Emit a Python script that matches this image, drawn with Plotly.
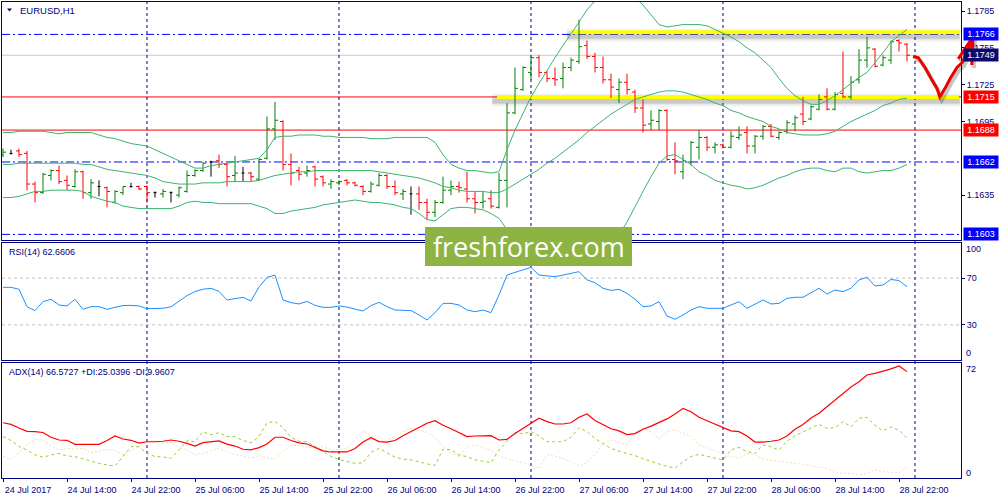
import plotly.graph_objects as go

# ---------------- data (EURUSD H1, bar 0 = 24 Jul 2017 06:00) ----------------
time_labels = ["24 Jul 2017", "24 Jul 14:00", "24 Jul 22:00", "25 Jul 06:00", "25 Jul 14:00",
               "25 Jul 22:00", "26 Jul 06:00", "26 Jul 14:00", "26 Jul 22:00", "27 Jul 06:00",
               "27 Jul 14:00", "27 Jul 22:00", "28 Jul 06:00", "28 Jul 14:00", "28 Jul 22:00"]
label_bars = [0, 8, 16, 24, 32, 40, 48, 56, 64, 72, 80, 88, 96, 104, 112]
day_start_bars = [18, 42, 66, 90, 114]

opens = [
    1.1668, 1.1669, 1.1671, 1.1669, 1.1644, 1.1637, 1.1651, 1.1655, 1.1647, 1.1642,
    1.1654, 1.1637, 1.1642, 1.1641, 1.1629, 1.1637, 1.1642, 1.1642, 1.1642, 1.1637,
    1.1636, 1.1637, 1.1635, 1.1638, 1.1651, 1.1655, 1.1662, 1.1663, 1.1660, 1.1651,
    1.1653, 1.1653, 1.1648, 1.1665, 1.1689, 1.1695, 1.1660, 1.1655, 1.1653, 1.1658,
    1.1650, 1.1644, 1.1645, 1.1647, 1.1645, 1.1642, 1.1638, 1.1643, 1.1651, 1.1642,
    1.1636, 1.1636, 1.1636, 1.1629, 1.1621, 1.1629, 1.1639, 1.1642, 1.1640, 1.1632,
    1.1629, 1.1632, 1.1625, 1.1647, 1.1702, 1.1721, 1.1735, 1.1747, 1.1735, 1.1730,
    1.1730, 1.1739, 1.1744, 1.1757, 1.1748, 1.1739, 1.1729, 1.1721, 1.1727, 1.1719,
    1.1706, 1.1693, 1.1695, 1.1704, 1.1664, 1.1654, 1.1662, 1.1674, 1.1682, 1.1674,
    1.1676, 1.1674, 1.1682, 1.1686, 1.1675, 1.1683, 1.1691, 1.1682, 1.1687, 1.1693,
    1.1701, 1.1697, 1.1705, 1.1715, 1.1705, 1.1718, 1.1715, 1.1729, 1.1745, 1.1754,
    1.1741, 1.1745, 1.1761, 1.1758]
highs = [
    1.1673, 1.1672, 1.1673, 1.1671, 1.1646, 1.1653, 1.1656, 1.1659, 1.1651, 1.1656,
    1.1655, 1.1648, 1.1647, 1.1642, 1.1639, 1.1642, 1.1645, 1.1643, 1.1643, 1.1638,
    1.1640, 1.1638, 1.1642, 1.1655, 1.1656, 1.1662, 1.1663, 1.1668, 1.1661, 1.1667,
    1.1658, 1.1654, 1.1665, 1.1699, 1.1711, 1.1696, 1.1669, 1.1658, 1.1659, 1.1659,
    1.1651, 1.1648, 1.1647, 1.1648, 1.1646, 1.1643, 1.1646, 1.1653, 1.1652, 1.1647,
    1.1640, 1.1642, 1.1642, 1.1632, 1.1631, 1.1650, 1.1647, 1.1646, 1.1654, 1.1638,
    1.1638, 1.1639, 1.1653, 1.1710, 1.1739, 1.1740, 1.1748, 1.1749, 1.1736, 1.1739,
    1.1743, 1.1747, 1.1778, 1.1761, 1.1751, 1.1748, 1.1734, 1.1730, 1.1734, 1.1721,
    1.1713, 1.1704, 1.1705, 1.1705, 1.1678, 1.1668, 1.1679, 1.1688, 1.1683, 1.1678,
    1.1677, 1.1687, 1.1691, 1.1691, 1.1684, 1.1692, 1.1693, 1.1687, 1.1696, 1.1700,
    1.1715, 1.1708, 1.1717, 1.1722, 1.1719, 1.1752, 1.1732, 1.1754, 1.1764, 1.1755,
    1.1749, 1.1761, 1.1762, 1.1759]
lows = [
    1.1666, 1.1668, 1.1666, 1.1639, 1.1629, 1.1636, 1.1647, 1.1644, 1.1639, 1.1641,
    1.1632, 1.1632, 1.1634, 1.1625, 1.1628, 1.1635, 1.1641, 1.1639, 1.1629, 1.1633,
    1.1633, 1.1629, 1.1633, 1.1637, 1.1650, 1.1654, 1.1650, 1.1657, 1.1642, 1.1646,
    1.1646, 1.1646, 1.1647, 1.1664, 1.1680, 1.1655, 1.1643, 1.1647, 1.1650, 1.1642,
    1.1642, 1.1640, 1.1643, 1.1643, 1.1642, 1.1635, 1.1637, 1.1642, 1.1640, 1.1635,
    1.1631, 1.1619, 1.1623, 1.1615, 1.1617, 1.1628, 1.1635, 1.1637, 1.1629, 1.1620,
    1.1624, 1.1624, 1.1624, 1.1625, 1.1701, 1.1720, 1.1729, 1.1731, 1.1727, 1.1724,
    1.1722, 1.1736, 1.1742, 1.1746, 1.1735, 1.1726, 1.1714, 1.1710, 1.1717, 1.1702,
    1.1686, 1.1688, 1.1688, 1.1663, 1.1652, 1.1648, 1.1659, 1.1664, 1.1671, 1.1669,
    1.1673, 1.1673, 1.1680, 1.1669, 1.1669, 1.1680, 1.1682, 1.1680, 1.1685, 1.1687,
    1.1692, 1.1696, 1.1704, 1.1704, 1.1704, 1.1714, 1.1713, 1.1726, 1.1739, 1.1739,
    1.1740, 1.1742, 1.1752, 1.1744]
closes = [
    1.1670, 1.1669, 1.1668, 1.1644, 1.1637, 1.1652, 1.1655, 1.1646, 1.1643, 1.1654,
    1.1637, 1.1645, 1.1642, 1.1638, 1.1638, 1.1642, 1.1642, 1.1640, 1.1637, 1.1637,
    1.1638, 1.1637, 1.1641, 1.1651, 1.1655, 1.1661, 1.1662, 1.1660, 1.1650, 1.1653,
    1.1653, 1.1650, 1.1664, 1.1689, 1.1696, 1.1660, 1.1653, 1.1652, 1.1655, 1.1648,
    1.1645, 1.1646, 1.1646, 1.1645, 1.1643, 1.1638, 1.1644, 1.1651, 1.1642, 1.1637,
    1.1638, 1.1636, 1.1629, 1.1621, 1.1629, 1.1639, 1.1642, 1.1641, 1.1632, 1.1629,
    1.1630, 1.1626, 1.1647, 1.1702, 1.1722, 1.1739, 1.1747, 1.1735, 1.1730, 1.1729,
    1.1739, 1.1745, 1.1756, 1.1748, 1.1739, 1.1729, 1.1723, 1.1727, 1.1721, 1.1706,
    1.1692, 1.1696, 1.1704, 1.1664, 1.1663, 1.1663, 1.1678, 1.1682, 1.1674, 1.1676,
    1.1674, 1.1683, 1.1684, 1.1675, 1.1683, 1.1691, 1.1683, 1.1686, 1.1694, 1.1698,
    1.1695, 1.1707, 1.1713, 1.1705, 1.1717, 1.1715, 1.1727, 1.1745, 1.1755, 1.1740,
    1.1747, 1.1760, 1.1759, 1.1749]

bb_upper = [
    1.1686, 1.1686, 1.1687, 1.1687, 1.1687, 1.1687, 1.1686, 1.1685, 1.1686, 1.1686,
    1.1686, 1.1686, 1.1684, 1.1682, 1.1681, 1.1679, 1.1677, 1.1676, 1.1675, 1.1672,
    1.1669, 1.1666, 1.1663, 1.1660, 1.1657, 1.1657, 1.1659, 1.1660, 1.1661, 1.1662,
    1.1663, 1.1664, 1.1665, 1.1672, 1.1682, 1.1683, 1.1683, 1.1684, 1.1684, 1.1684,
    1.1683, 1.1683, 1.1682, 1.1682, 1.1682, 1.1682, 1.1681, 1.1681, 1.1681, 1.1682,
    1.1682, 1.1682, 1.1682, 1.1682, 1.1678, 1.1668, 1.1660, 1.1657, 1.1655, 1.1655,
    1.1654, 1.1653, 1.1654, 1.1672, 1.1688, 1.1702, 1.1715, 1.1726, 1.1737, 1.1747,
    1.1757, 1.1766, 1.1776, 1.1786, 1.1794, 1.1801, 1.1804, 1.1804, 1.1801, 1.1796,
    1.1790, 1.1782, 1.1774, 1.1772, 1.1773, 1.1774, 1.1774, 1.1774, 1.1773, 1.1770,
    1.1767, 1.1764, 1.1760, 1.1755, 1.1751, 1.1745, 1.1739, 1.1730, 1.1722, 1.1716,
    1.1712, 1.1709, 1.1709, 1.1712, 1.1716, 1.1721, 1.1726, 1.1731, 1.1735, 1.1743,
    1.1751, 1.1760, 1.1765, 1.1770]
bb_middle = [
    1.1660, 1.1660, 1.1661, 1.1661, 1.1661, 1.1661, 1.1661, 1.1661, 1.1661, 1.1661,
    1.1660, 1.1660, 1.1658, 1.1656, 1.1655, 1.1654, 1.1653, 1.1652, 1.1651, 1.1649,
    1.1646, 1.1645, 1.1644, 1.1644, 1.1644, 1.1645, 1.1645, 1.1645, 1.1646, 1.1646,
    1.1646, 1.1646, 1.1647, 1.1649, 1.1651, 1.1652, 1.1653, 1.1654, 1.1654, 1.1655,
    1.1655, 1.1655, 1.1655, 1.1655, 1.1655, 1.1655, 1.1655, 1.1654, 1.1653, 1.1652,
    1.1651, 1.1650, 1.1649, 1.1647, 1.1645, 1.1642, 1.1641, 1.1639, 1.1638, 1.1638,
    1.1638, 1.1637, 1.1637, 1.1640, 1.1644, 1.1648, 1.1652, 1.1656, 1.1661, 1.1665,
    1.1670, 1.1675, 1.1680, 1.1686, 1.1691, 1.1696, 1.1701, 1.1705, 1.1709, 1.1713,
    1.1715, 1.1717, 1.1719, 1.1720, 1.1720, 1.1719, 1.1717, 1.1715, 1.1713, 1.1710,
    1.1708, 1.1704, 1.1702, 1.1699, 1.1697, 1.1695, 1.1691, 1.1689, 1.1686, 1.1685,
    1.1684, 1.1684, 1.1684, 1.1685, 1.1687, 1.1691, 1.1695, 1.1698, 1.1701, 1.1704,
    1.1708, 1.1710, 1.1713, 1.1714]
bb_lower = [
    1.1633, 1.1633, 1.1634, 1.1636, 1.1638, 1.1638, 1.1639, 1.1639, 1.1639, 1.1639,
    1.1638, 1.1634, 1.1632, 1.1630, 1.1629, 1.1626, 1.1625, 1.1624, 1.1624, 1.1624,
    1.1624, 1.1624, 1.1626, 1.1629, 1.1630, 1.1629, 1.1629, 1.1628, 1.1628, 1.1628,
    1.1628, 1.1628, 1.1626, 1.1624, 1.1620, 1.1620, 1.1622, 1.1623, 1.1624, 1.1625,
    1.1627, 1.1628, 1.1629, 1.1630, 1.1631, 1.1630, 1.1629, 1.1629, 1.1628, 1.1627,
    1.1625, 1.1624, 1.1620, 1.1615, 1.1614, 1.1619, 1.1624, 1.1625, 1.1625, 1.1624,
    1.1623, 1.1620, 1.1616, 1.1607, 1.1598, 1.1592, 1.1588, 1.1585, 1.1584, 1.1583,
    1.1583, 1.1584, 1.1585, 1.1586, 1.1588, 1.1592, 1.1597, 1.1603, 1.1613, 1.1626,
    1.1638, 1.1650, 1.1661, 1.1667, 1.1668, 1.1664, 1.1660, 1.1654, 1.1651, 1.1647,
    1.1645, 1.1643, 1.1642, 1.1640, 1.1641, 1.1643, 1.1646, 1.1649, 1.1651, 1.1654,
    1.1656, 1.1657, 1.1657, 1.1655, 1.1654, 1.1657, 1.1657, 1.1654, 1.1653, 1.1654,
    1.1655, 1.1655, 1.1657, 1.1660]

rsi14 = [
    62.1, 62.1, 60.5, 45.5, 42.2, 49.9, 51.9, 47.0, 46.2, 51.9,
    43.3, 45.6, 45.6, 43.3, 45.0, 46.5, 46.7, 46.2, 43.9, 44.2,
    44.2, 45.5, 50.5, 55.0, 58.5, 60.5, 61.3, 58.6, 51.3, 52.7,
    53.6, 50.4, 62.5, 70.5, 72.6, 51.3, 49.0, 47.9, 50.1, 46.7,
    45.0, 45.0, 46.2, 45.2, 43.6, 41.9, 46.5, 49.3, 45.6, 42.7,
    42.5, 42.2, 38.5, 34.2, 40.4, 48.4, 48.4, 47.0, 42.7, 41.3,
    42.7, 40.5, 55.6, 72.6, 74.9, 76.9, 79.2, 72.6, 71.8, 71.2,
    72.6, 74.1, 75.5, 68.5, 66.0, 61.3, 59.5, 60.4, 57.0, 51.9,
    45.6, 46.2, 49.9, 37.6, 34.8, 38.5, 42.7, 45.6, 44.2, 44.2,
    44.2, 47.0, 49.9, 44.2, 47.5, 51.3, 47.9, 48.4, 52.7, 53.6,
    53.6, 57.5, 61.3, 56.4, 59.8, 58.4, 61.3, 68.4, 70.7, 63.2,
    64.1, 68.9, 67.8, 62.7]

adx14 = [
    34.6, 33.6, 31.3, 29.2, 29.0, 28.5, 25.5, 23.8, 23.6, 21.1,
    21.1, 21.1, 21.1, 23.5, 26.3, 24.4, 23.6, 21.8, 22.7, 22.7,
    23.0, 23.8, 23.0, 21.7, 20.0, 22.1, 22.8, 23.2, 21.2, 20.0,
    18.0, 17.6, 19.0, 21.3, 25.5, 25.5, 23.5, 22.0, 21.3, 19.0,
    17.0, 16.3, 16.3, 16.3, 18.5, 22.5, 25.2, 22.8, 22.5, 23.5,
    26.5, 29.0, 31.8, 34.3, 35.9, 33.0, 30.8, 28.2, 25.9, 26.3,
    26.5, 26.5, 23.8, 24.2, 27.8, 31.1, 34.4, 37.4, 35.3, 33.8,
    33.8, 34.6, 38.0, 40.1, 36.0, 33.2, 30.8, 29.5, 27.2, 27.8,
    30.5, 32.5, 34.6, 37.0, 40.0, 43.6, 41.5, 38.0, 35.8, 33.8,
    31.5, 29.5, 29.0, 26.3, 22.5, 22.4, 23.0, 23.8, 26.3, 30.5,
    33.5, 37.5, 40.5, 44.5, 48.5, 52.5, 57.0, 60.3, 64.5, 65.5,
    66.8, 68.3, 70.1, 66.6]
plus_di = [
    25.9, 23.5, 19.8, 17.5, 14.5, 13.0, 14.4, 15.4, 13.8, 13.4,
    12.0, 10.5, 9.2, 8.1, 7.5, 13.5, 19.6, 19.6, 15.4, 13.4,
    13.2, 12.3, 17.5, 23.4, 22.7, 29.0, 27.0, 28.4, 25.9, 25.9,
    23.4, 22.0, 26.0, 34.5, 35.5, 31.5, 25.5, 23.0, 22.7, 19.8,
    16.5, 13.5, 11.5, 10.2, 9.2, 9.5, 16.0, 18.6, 16.0, 13.0,
    11.8, 11.3, 10.2, 8.8, 7.9, 18.0, 17.8, 14.4, 13.4, 11.3,
    10.5, 9.6, 17.5, 22.7, 28.5, 27.6, 29.0, 26.5, 22.7, 22.7,
    22.7, 25.5, 31.5, 29.0, 24.8, 21.5, 18.5, 16.8, 15.6, 14.0,
    12.0, 10.2, 8.8, 7.3, 6.3, 10.0, 13.4, 14.8, 13.6, 12.5,
    11.3, 17.6, 19.2, 16.5, 15.4, 20.7, 19.5, 17.5, 23.0, 26.5,
    29.0, 31.2, 33.6, 31.1, 31.5, 35.3, 32.1, 37.4, 38.0, 33.0,
    29.5, 32.0, 30.0, 24.8]
minus_di = [
    13.4, 11.7, 16.0, 20.7, 24.2, 23.8, 20.0, 17.5, 18.6, 18.0,
    18.6, 16.0, 16.8, 18.0, 17.0, 14.8, 16.8, 19.6, 22.7, 23.5,
    21.7, 22.5, 19.2, 17.5, 14.4, 15.4, 16.8, 18.6, 16.0, 14.8,
    13.8, 12.5, 14.0, 13.0, 11.7, 16.5, 20.5, 20.2, 19.2, 18.6,
    19.8, 17.5, 18.0, 18.6, 23.5, 29.6, 26.3, 22.7, 23.5, 26.5,
    29.0, 31.1, 30.1, 28.6, 25.5, 20.0, 16.0, 13.4, 19.6, 20.7,
    19.0, 17.5, 13.4, 12.3, 10.5, 9.6, 7.6, 6.1, 14.8, 13.4,
    12.3, 10.0, 7.5, 9.5, 15.0, 21.5, 23.8, 22.7, 20.7, 28.5,
    31.1, 29.0, 24.5, 29.0, 30.1, 28.0, 26.0, 20.7, 19.0, 17.0,
    15.0, 13.4, 12.3, 15.2, 14.6, 12.0, 11.0, 10.5, 9.8, 9.3,
    8.5, 7.5, 6.8, 6.1, 3.3, 3.0, 2.9, 1.9, 2.9, 5.0,
    4.0, 3.5, 3.3, 6.7]

price_ticks = [1.1785, 1.1755, 1.1725, 1.1695, 1.1635]
blue_levels = [1.1766, 1.1662, 1.1603]
red_levels = [1.1715, 1.1688]
bid_price = 1.1749
box_prices = [1.1766, 1.1749, 1.1715, 1.1688, 1.1662, 1.1603]
highlight_prices = [1.17677, 1.1715]
highlight_start_bars = [71.1, 61.75]
rsi_levels = [70, 30]

series = [opens, highs, lows, closes, bb_upper, bb_middle, bb_lower, rsi14, adx14, plus_di, minus_di]
for s in series:
    if len(s) != len(closes):
        raise ValueError("length mismatch %d" % len(s))

# ---------------- geometry / style ----------------
W, H = 1000, 500
ML, MR, MT, MB = 2, 39, 2, 22
PW, PH = W - ML - MR, H - MT - MB


def px(xpix):
    return (xpix - ML) / PW


def py(ypix):
    return (H - MB - ypix) / PH


MAIN_DOM = [py(240), py(2)]
RSI_DOM = [py(360), py(243)]
ADX_DOM = [py(478), py(363)]
X_RANGE = [-0.125, 119.75]
Y_RANGE = [1.15984, 1.17924]
PRICE_PER_PX = (Y_RANGE[1] - Y_RANGE[0]) / (240 - 2)

NAVY = "#000080"
FONT = "Liberation Sans"
GREEN_BAR, RED_BAR, DOJI = "#008000", "#FF0000", "#000000"
BB_COLOR = "#3CB371"

idx = list(range(len(closes)))

fig = go.Figure()

# Bollinger bands
for band in (bb_upper, bb_middle, bb_lower):
    fig.add_trace(go.Scatter(x=idx, y=band, mode="lines", line=dict(color=BB_COLOR, width=1),
                             xaxis="x", yaxis="y", hoverinfo="skip", showlegend=False))


def min_gap(xs):
    if len(xs) < 2:
        return 1
    return min(b - a for a, b in zip(xs, xs[1:]))


groups = [
    ([i for i in idx if closes[i] > opens[i]], GREEN_BAR),
    ([i for i in idx if closes[i] < opens[i]], RED_BAR),
    ([i for i in idx if closes[i] == opens[i]], DOJI),
]
for sel, col in groups:
    fig.add_trace(go.Ohlc(
        x=sel,
        open=[opens[i] for i in sel], high=[highs[i] for i in sel],
        low=[lows[i] for i in sel], close=[closes[i] for i in sel],
        increasing=dict(line=dict(color=col, width=1)),
        decreasing=dict(line=dict(color=col, width=1)),
        tickwidth=min(0.5, 0.375 / min_gap(sel)),
        xaxis="x", yaxis="y", hoverinfo="skip", showlegend=False))

# RSI
fig.add_trace(go.Scatter(x=idx, y=rsi14, mode="lines", line=dict(color="#1E90FF", width=1),
                         xaxis="x2", yaxis="y2", hoverinfo="skip", showlegend=False))
# ADX
fig.add_trace(go.Scatter(x=idx, y=minus_di, mode="lines",
                         line=dict(color="#F5DEB3", width=1, dash="2px,2px"),
                         xaxis="x3", yaxis="y3", hoverinfo="skip", showlegend=False))
fig.add_trace(go.Scatter(x=idx, y=plus_di, mode="lines",
                         line=dict(color="#9ACD32", width=1, dash="3px,3px"),
                         xaxis="x3", yaxis="y3", hoverinfo="skip", showlegend=False))
fig.add_trace(go.Scatter(x=idx, y=adx14, mode="lines", line=dict(color="#FF0000", width=1.2),
                         xaxis="x3", yaxis="y3", hoverinfo="skip", showlegend=False))

shapes = []
# yellow highlighter lines with soft shadow
for price, start in zip(highlight_prices, highlight_start_bars):
    for width, alpha, off in ((13, 0.05, 3), (9, 0.07, 3), (5, 0.10, 4)):
        shapes.append(dict(type="line", xref="x", yref="y", x0=start - 0.6, x1=119.6,
                           y0=price - off * PRICE_PER_PX, y1=price - off * PRICE_PER_PX,
                           line=dict(color="rgba(0,0,0,%.2f)" % alpha, width=width), layer="below"))
    shapes.append(dict(type="line", xref="x", yref="y", x0=start, x1=119.5, y0=price, y1=price,
                       line=dict(color="#FFFF00", width=4), layer="below"))
# horizontal levels
shapes.append(dict(type="line", xref="x domain", yref="y", x0=0, x1=1, y0=bid_price, y1=bid_price,
                   line=dict(color="#C8C8C8", width=1), layer="below"))
for lv in blue_levels:
    shapes.append(dict(type="line", xref="x domain", yref="y", x0=0, x1=1, y0=lv, y1=lv,
                       line=dict(color="#0000FF", width=1, dash="8px,3px,2px,3px"), layer="below"))
for lv in red_levels:
    shapes.append(dict(type="line", xref="x domain", yref="y", x0=0, x1=1, y0=lv, y1=lv,
                       line=dict(color="#FF0000", width=1), layer="below"))
for lv in rsi_levels:
    shapes.append(dict(type="line", xref="x2 domain", yref="y2", x0=0, x1=1, y0=lv, y1=lv,
                       line=dict(color="#C0C0C0", width=1, dash="3px,3px"), layer="below"))
# day separators
for b in day_start_bars:
    shapes.append(dict(type="line", xref="x", yref="paper", x0=b, x1=b, y0=0, y1=1,
                       line=dict(color=NAVY, width=1, dash="3px,3px"), layer="below"))

# watermark box
shapes.append(dict(type="rect", xref="paper", yref="paper", x0=px(425), x1=px(632), y0=py(266), y1=py(227),
                   fillcolor="#8DB443", line=dict(width=0), layer="above"))
# title triangle
shapes.append(dict(type="path", xref="paper", yref="paper",
                   path="M%.5f,%.5f L%.5f,%.5f L%.5f,%.5f Z" % (px(7), py(8.5), px(12), py(8.5), px(9.5), py(11.5)),
                   fillcolor=NAVY, line=dict(width=0), layer="above"))


# hand-drawn red arrow (drawing, expressed as bar index / price)
def to_paper(bar, price):
    x = (bar - X_RANGE[0]) / (X_RANGE[1] - X_RANGE[0])
    y = MAIN_DOM[0] + (price - Y_RANGE[0]) / (Y_RANGE[1] - Y_RANGE[0]) * (MAIN_DOM[1] - MAIN_DOM[0])
    return x, y


arrow_shaft = [(113.75, 1.1748), (114.4, 1.1747), (115.25, 1.1739), (116.1, 1.1729), (116.75, 1.1722),
               (117.1, 1.1715), (117.75, 1.1722), (118.4, 1.1730), (119.25, 1.1739), (119.9, 1.1743),
               (120.5, 1.1751), (121.1, 1.1761)]
arrow_head = [(119.4, 1.1746), (121.25, 1.1764), (121.1, 1.1741)]


def path_from(points, dx=0.0, dy=0.0):
    parts = []
    for k, (b, p) in enumerate(points):
        x, y = to_paper(b, p)
        parts.append(("M" if k == 0 else "L") + "%.5f,%.5f" % (x + dx, y + dy))
    return " ".join(parts)


for pts in (arrow_shaft, arrow_head):
    shapes.append(dict(type="path", xref="paper", yref="paper", path=path_from(pts, 2 / PW, -3 / PH),
                       line=dict(color="rgba(0,0,0,0.22)", width=4), layer="above"))
for pts in (arrow_shaft, arrow_head):
    shapes.append(dict(type="path", xref="paper", yref="paper", path=path_from(pts),
                       line=dict(color="#EE0000", width=3), layer="above"))

annotations = []
tfont = dict(family=FONT, size=9, color=NAVY)
annotations.append(dict(x=px(18), y=py(10), xref="paper", yref="paper", xanchor="left", yanchor="middle",
                        text="EURUSD,H1", showarrow=False, font=dict(family=FONT, size=9.5, color=NAVY)))
annotations.append(dict(x=px(7), y=py(251.5), xref="paper", yref="paper", xanchor="left", yanchor="middle",
                        text="RSI(14) 62.6606", showarrow=False, font=tfont))
annotations.append(dict(x=px(7), y=py(371.5), xref="paper", yref="paper", xanchor="left", yanchor="middle",
                        text="ADX(14) 66.5727 +DI:25.0396 -DI:9.9607", showarrow=False, font=tfont))
box_colors = {1.1766: "#0000FF", 1.1749: "#0A0A6E", 1.1715: "#FF0000", 1.1688: "#FF0000",
              1.1662: "#0000FF", 1.1603: "#0000FF"}
for p in box_prices:
    annotations.append(dict(x=px(963), y=p, xref="paper", yref="y", xanchor="left", yanchor="middle",
                            text="%.4f" % p, showarrow=False, bgcolor=box_colors[p], borderpad=1,
                            width=32, height=10, align="center",
                            font=dict(family=FONT, size=9, color="white")))
for val, txt, yref in ((95, "100", "y2"), (6, "0", "y2"), (68.3, "72", "y3"), (3.1, "0", "y3")):
    annotations.append(dict(x=px(964), y=val, xref="paper", yref=yref, xanchor="left", yanchor="middle",
                            text=txt, showarrow=False, font=tfont))
annotations.append(dict(x=px(528.5), y=py(246.5), xref="paper", yref="paper", xanchor="center",
                        yanchor="middle", text="freshforex.com", showarrow=False,
                        font=dict(family="Open Sans", size=27, color="white")))

axis_common = dict(showgrid=False, zeroline=False, showline=True, mirror=True, linecolor=NAVY,
                   linewidth=1, automargin=False, fixedrange=True)

fig.update_layout(
    template="none",
    width=W, height=H,
    margin=dict(l=ML, r=MR, t=MT, b=MB),
    paper_bgcolor="white", plot_bgcolor="white",
    showlegend=False,
    font=dict(family=FONT, size=9, color=NAVY),
    xaxis=dict(**axis_common, domain=[0, 1], range=X_RANGE, anchor="y", showticklabels=False, ticks="",
               rangeslider=dict(visible=False)),
    xaxis2=dict(**axis_common, domain=[0, 1], range=X_RANGE, anchor="y2", showticklabels=False, ticks="",
                matches="x"),
    xaxis3=dict(**axis_common, domain=[0, 1], range=X_RANGE, anchor="y3", matches="x",
                tickmode="array", tickvals=label_bars, ticktext=time_labels,
                ticks="outside", ticklen=3, tickcolor=NAVY, tickfont=tfont, ticklabelshift=25),
    yaxis=dict(**axis_common, domain=MAIN_DOM, range=Y_RANGE, anchor="x", side="right",
               tickmode="array", tickvals=price_ticks, ticktext=["%.4f" % v for v in price_ticks],
               ticks="outside", ticklen=3, tickcolor=NAVY, tickfont=tfont),
    yaxis2=dict(**axis_common, domain=RSI_DOM, range=[0, 100], anchor="x2", side="right",
                tickmode="array", tickvals=rsi_levels, ticktext=[str(v) for v in rsi_levels],
                ticks="outside", ticklen=3, tickcolor=NAVY, tickfont=tfont),
    yaxis3=dict(**axis_common, domain=ADX_DOM, range=[0, 72], anchor="x3", side="right",
                showticklabels=False, ticks=""),
    shapes=shapes,
    annotations=annotations,
)

page_fix = ("document.documentElement.style.margin='0';document.body.style.margin='0';"
            "document.body.style.padding='0';document.body.style.overflow='hidden';")
fig.write_html("out.html", config={"displayModeBar": False, "staticPlot": True}, post_script=page_fix)
